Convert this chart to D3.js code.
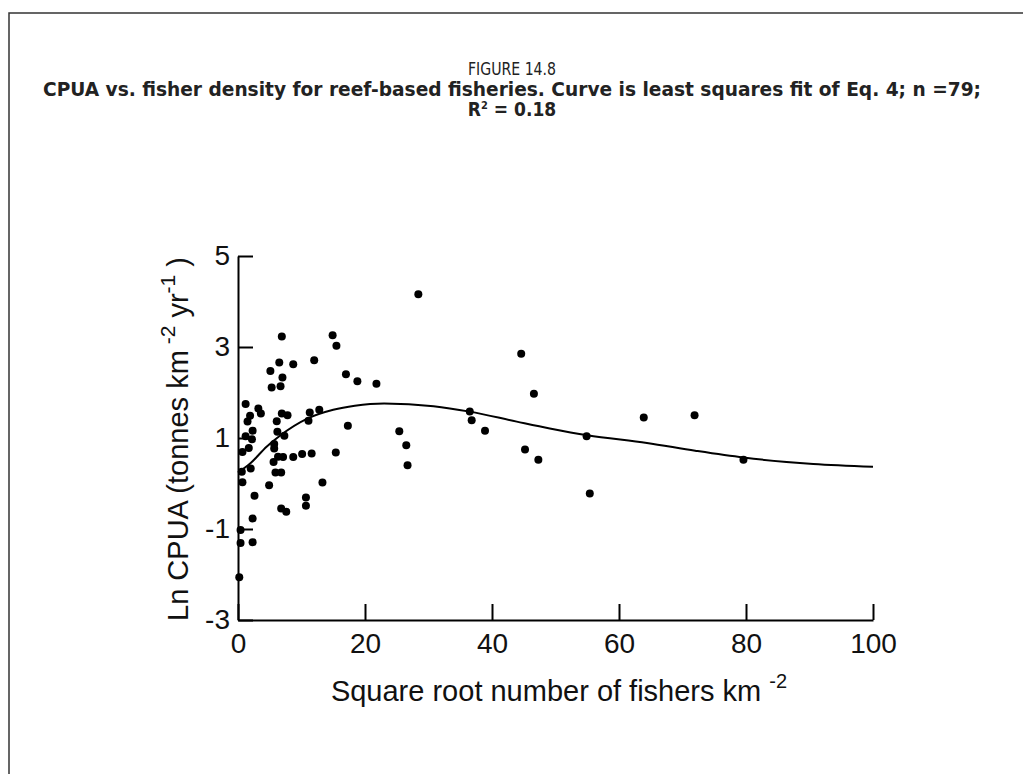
<!DOCTYPE html>
<html>
<head>
<meta charset="utf-8">
<script src="https://cdn.jsdelivr.net/npm/d3@7"></script>
<style>
    body { margin: 0; background: #fff; }
    svg { display: block; }
    .axis path, .axis line { stroke: #000; stroke-width: 2; }
    .axis text { font-family: "Liberation Sans", Arial, sans-serif; font-size: 28px; fill: #111; }
    .caption { font-family: "Liberation Sans Narrow", "DejaVu Sans Condensed", sans-serif; fill: #222; }
</style>
</head>
<body>
<script>
// fisher density (sqrt fishers km^-2) vs ln CPUA
var densityX = [
    6.9, 14.9, 15.5, 6.5, 8.7, 12.0, 5.1, 7.0, 5.3, 6.7,
    17.0, 18.8, 21.8, 28.4, 17.3, 15.4, 25.4, 26.5, 26.7, 44.6,
    46.6, 36.5, 36.8, 38.9, 45.2, 47.3, 54.9, 55.4, 63.9, 71.9,
    79.6, 1.2, 3.2, 3.6, 1.9, 1.5, 6.9, 7.8, 11.3, 12.8,
    11.1, 6.1, 2.3, 1.2, 2.2, 6.2, 7.3, 5.7, 1.7, 0.7,
    5.7, 6.3, 7.1, 5.6, 8.7, 10.1, 11.6, 2.0, 0.6, 5.9,
    6.8, 0.7, 4.9, 13.3, 2.6, 6.8, 7.6, 10.7, 10.7, 2.3,
    0.4, 0.4, 2.3, 0.2
];
var lnCpua = [
    3.23, 3.26, 3.03, 2.66, 2.62, 2.71, 2.47, 2.33, 2.11, 2.14,
    2.40, 2.25, 2.19, 4.16, 1.27, 0.68, 1.15, 0.84, 0.40, 2.85,
    1.97, 1.58, 1.39, 1.16, 0.75, 0.52, 1.04, -0.22, 1.45, 1.50,
    0.52, 1.75, 1.65, 1.54, 1.49, 1.36, 1.54, 1.50, 1.56, 1.62,
    1.38, 1.37, 1.16, 1.04, 0.97, 1.14, 1.05, 0.87, 0.78, 0.69,
    0.77, 0.59, 0.58, 0.47, 0.58, 0.65, 0.66, 0.33, 0.26, 0.24,
    0.24, 0.03, -0.04, 0.02, -0.27, -0.55, -0.62, -0.31, -0.49, -0.77,
    -1.02, -1.31, -1.29, -2.06
];

// fitted curve (Eq. 4), sampled from the figure
var fitX = [0, 2, 4.5, 6.6, 11, 15, 18.4, 23, 30.8, 36.5, 43.9, 49.1, 55, 64.4, 72, 79.6, 90.6, 100];
var fitY = [0.24, 0.45, 0.81, 1.05, 1.43, 1.62, 1.71, 1.76, 1.70, 1.58, 1.36, 1.21, 1.06, 0.89, 0.72, 0.57, 0.43, 0.37];

var xTicks = [0, 20, 40, 60, 80, 100],
    yTicks = [-3, -1, 1, 3, 5];

var titleLines = [
    'FIGURE 14.8',
    'CPUA vs. fisher density for reef-based fisheries. Curve is least squares fit of Eq. 4; n =79;'
];

var width = 1023,
    height = 774;

var svg = d3.select('body').append('svg')
    .attr('width', width)
    .attr('height', height);

// page frame (top and left rules)
svg.append('path')
    .attr('d', 'M9,774 V13 H1023')
    .attr('fill', 'none')
    .attr('stroke', '#333')
    .attr('stroke-width', 1.5);

var x = d3.scaleLinear().domain([0, 100]).range([238, 873]),
    y = d3.scaleLinear().domain([-3, 5]).range([620, 256]);

// caption
var cx = 512;
svg.append('text')
    .attr('class', 'caption')
    .attr('x', cx).attr('y', 75)
    .attr('text-anchor', 'middle')
    .style('font-size', '18px')
    .attr('textLength', 88)
    .attr('lengthAdjust', 'spacingAndGlyphs')
    .text(titleLines[0]);

svg.append('text')
    .attr('class', 'caption')
    .attr('x', cx).attr('y', 96)
    .attr('text-anchor', 'middle')
    .style('font-size', '19px')
    .style('font-weight', 'bold')
    .attr('textLength', 938)
    .attr('lengthAdjust', 'spacingAndGlyphs')
    .text(titleLines[1]);

var r2 = svg.append('text')
    .attr('class', 'caption')
    .attr('x', cx).attr('y', 116)
    .attr('text-anchor', 'middle')
    .style('font-size', '19px')
    .style('font-weight', 'bold');
r2.append('tspan').text('R');
r2.append('tspan').attr('dy', -7).style('font-size', '11px').text('2');
r2.append('tspan').attr('dy', 7).text(' = 0.18');

// axes
svg.append('g')
    .attr('class', 'axis')
    .attr('transform', 'translate(0,' + y(-3) + ')')
    .call(d3.axisBottom(x)
        .tickValues(xTicks)
        .tickSizeInner(-16)
        .tickSizeOuter(0)
        .tickPadding(13)
        .tickFormat(function(d) { return String(d); }));

svg.append('g')
    .attr('class', 'axis')
    .attr('transform', 'translate(' + x(0) + ',0)')
    .call(d3.axisLeft(y)
        .tickValues(yTicks)
        .tickSizeInner(-15)
        .tickSizeOuter(0)
        .tickPadding(8)
        .tickFormat(function(d) { return String(d); }));

// fitted curve
var line = d3.line()
    .x(function(d) { return x(d[0]); })
    .y(function(d) { return y(d[1]); })
    .curve(d3.curveMonotoneX);

svg.append('path')
    .datum(d3.zip(fitX, fitY))
    .attr('fill', 'none')
    .attr('stroke', '#000')
    .attr('stroke-width', 2)
    .attr('d', line);

// observations
svg.append('g')
    .selectAll('circle')
    .data(d3.zip(densityX, lnCpua))
    .enter()
    .append('circle')
    .attr('cx', function(d) { return x(d[0]); })
    .attr('cy', function(d) { return y(d[1]); })
    .attr('r', 4)
    .attr('fill', '#000');

// axis titles
var xt = svg.append('text')
    .attr('x', 559).attr('y', 701)
    .attr('text-anchor', 'middle')
    .style('font-family', '"Liberation Sans", Arial, sans-serif')
    .style('font-size', '29px')
    .attr('fill', '#111');
xt.append('tspan').text('Square root number of fishers km ');
xt.append('tspan').attr('dy', -13).style('font-size', '20px').text(' -2');

var yt = svg.append('text')
    .attr('transform', 'translate(188,439) rotate(-90)')
    .attr('text-anchor', 'middle')
    .style('font-family', '"Liberation Sans", Arial, sans-serif')
    .style('font-size', '29px')
    .attr('fill', '#111');
yt.append('tspan').text('Ln CPUA (tonnes km');
yt.append('tspan').attr('dy', -13).style('font-size', '21px').text(' -2');
yt.append('tspan').attr('dy', 13).text(' yr');
yt.append('tspan').attr('dy', -13).style('font-size', '21px').text('-1');
yt.append('tspan').attr('dy', 13).text(' )');
</script>
</body>
</html>
